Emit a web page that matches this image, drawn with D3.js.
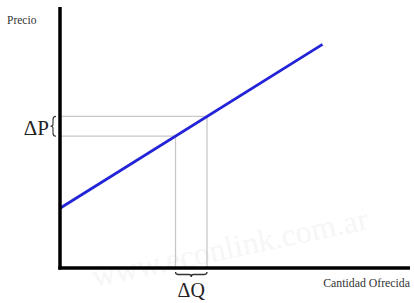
<!DOCTYPE html>
<html>
<head>
<meta charset="utf-8">
<script src="https://cdn.jsdelivr.net/npm/d3@7"></script>
<style>
  body { margin: 0; background: #fff; }
  text { font-family: "Liberation Serif", "DejaVu Serif", serif; }
</style>
</head>
<body>
<div id="chart"></div>
<script>
// supply curve (quantity, price), domain 0-100
const supplyQ = [0, 75];
const supplyP = [23, 86];
// the two points used for the deltas
const deltaQ = [33, 42];
const deltaP = [50.7, 58.3];
const axisLabels = ['Precio', 'Cantidad Ofrecida'];
const deltaLabels = ['ΔP', 'ΔQ'];
const watermark = 'www.econlink.com.ar';

const width = 414, height = 303;
const margin = {top: 8, left: 60, right: 4, bottom: 35};

const svg = d3.select('#chart').append('svg')
  .attr('width', width)
  .attr('height', height);

const x = d3.scaleLinear().domain([0, 100]).range([margin.left, width - margin.right]);
const y = d3.scaleLinear().domain([0, 100]).range([height - margin.bottom, margin.top]);

// watermark (very faint)
svg.append('text')
  .attr('transform', 'translate(232,258) rotate(-12)')
  .attr('text-anchor', 'middle')
  .attr('font-size', 32)
  .attr('fill', '#f6f6f6')
  .text(watermark);

// guide lines
const guide = svg.append('g').attr('stroke', '#c8c8c8').attr('stroke-width', 1.3);
guide.append('line')
  .attr('x1', x(0)).attr('x2', x(deltaQ[1]))
  .attr('y1', y(deltaP[1])).attr('y2', y(deltaP[1]));
guide.append('line')
  .attr('x1', x(0)).attr('x2', x(deltaQ[0]))
  .attr('y1', y(deltaP[0])).attr('y2', y(deltaP[0]));
deltaQ.forEach((q, i) => {
  guide.append('line')
    .attr('x1', x(q)).attr('x2', x(q))
    .attr('y1', y(deltaP[i])).attr('y2', y(0));
});

// supply line
const line = d3.line().x(d => x(d[0])).y(d => y(d[1]));
svg.append('path')
  .datum(supplyQ.map((q, i) => [q, supplyP[i]]))
  .attr('d', line)
  .attr('fill', 'none')
  .attr('stroke', '#2323d8')
  .attr('stroke-width', 2.8);

// axes
svg.append('line')
  .attr('x1', x(0)).attr('x2', x(0))
  .attr('y1', margin.top - 1).attr('y2', y(0) + 1.5)
  .attr('stroke', '#000').attr('stroke-width', 3.5);
svg.append('line')
  .attr('x1', x(0) - 1.75).attr('x2', x(100))
  .attr('y1', y(0)).attr('y2', y(0))
  .attr('stroke', '#000').attr('stroke-width', 3.5);

// axis labels
svg.append('text')
  .attr('x', 7).attr('y', 24)
  .attr('font-size', 11.5).attr('fill', '#333')
  .text(axisLabels[0]);
svg.append('text')
  .attr('x', 410).attr('y', 287)
  .attr('text-anchor', 'end')
  .attr('font-size', 11.8).attr('fill', '#333')
  .text(axisLabels[1]);

// vertical brace for ΔP
const pTop = y(deltaP[1]), pBot = y(deltaP[0]), pMid = (pTop + pBot) / 2;
const bx = 56;
const vb = d3.path();
vb.moveTo(bx, pTop);
vb.quadraticCurveTo(bx - 3, pTop, bx - 3, pTop + 3);
vb.lineTo(bx - 3, pMid - 2);
vb.quadraticCurveTo(bx - 3, pMid, bx - 5.5, pMid);
vb.quadraticCurveTo(bx - 3, pMid, bx - 3, pMid + 2);
vb.lineTo(bx - 3, pBot - 3);
vb.quadraticCurveTo(bx - 3, pBot, bx, pBot);
svg.append('path').attr('d', vb.toString())
  .attr('fill', 'none').attr('stroke', '#333').attr('stroke-width', 1.1);

svg.append('text')
  .attr('x', 49).attr('y', 135)
  .attr('text-anchor', 'end')
  .attr('font-size', 21).attr('fill', '#222')
  .text(deltaLabels[0]);

// horizontal brace for ΔQ
const qL = x(deltaQ[0]), qR = x(deltaQ[1]), qMid = (qL + qR) / 2;
const by = 272;
const hb = d3.path();
hb.moveTo(qL, by);
hb.quadraticCurveTo(qL, by + 2.5, qL + 3, by + 2.5);
hb.lineTo(qMid - 2, by + 2.5);
hb.quadraticCurveTo(qMid, by + 2.5, qMid, by + 5);
hb.quadraticCurveTo(qMid, by + 2.5, qMid + 2, by + 2.5);
hb.lineTo(qR - 3, by + 2.5);
hb.quadraticCurveTo(qR, by + 2.5, qR, by);
svg.append('path').attr('d', hb.toString())
  .attr('fill', 'none').attr('stroke', '#333').attr('stroke-width', 1.3);

svg.append('text')
  .attr('x', qMid).attr('y', 297)
  .attr('text-anchor', 'middle')
  .attr('font-size', 20).attr('fill', '#222')
  .text(deltaLabels[1]);
</script>
</body>
</html>
